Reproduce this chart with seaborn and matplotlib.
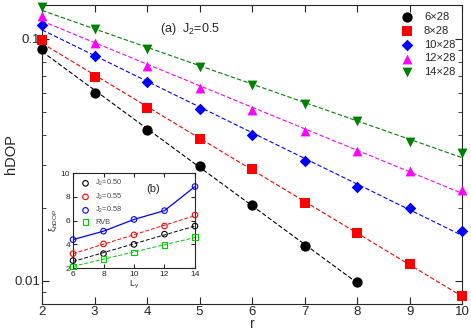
import numpy as np
import pandas as pd
import seaborn as sns
import matplotlib
matplotlib.use('Agg')
import matplotlib.pyplot as plt

# Main panel data
r = [2, 3, 4, 5, 6, 7, 8, 9, 10]
hdop_6 = [0.091, 0.0598, 0.042, 0.0299, 0.0206, 0.0140, 0.0099]
hdop_8 = [0.099, 0.0697, 0.0519, 0.0386, 0.0290, 0.0210, 0.0158, 0.01175, 0.00868]
hdop_10 = [0.114, 0.0851, 0.0664, 0.0514, 0.0401, 0.0313, 0.0244, 0.0200, 0.0161]
hdop_12 = [0.1245, 0.0963, 0.0774, 0.0627, 0.0509, 0.0417, 0.0345, 0.0285, 0.0238]
hdop_14 = [0.1355, 0.110, 0.091, 0.0766, 0.0645, 0.0539, 0.0458, 0.0375, 0.0338]
labels = ["6\u00d728", "8\u00d728", "10\u00d728", "12\u00d728", "14\u00d728"]

# Inset data
ly = [6, 8, 10, 12, 14]
xi_050 = [2.63, 3.22, 4.0, 4.86, 5.54]
xi_055 = [3.22, 4.04, 4.8, 5.54, 6.47]
xi_058 = [4.4, 5.11, 6.1, 6.84, 8.87]
xi_rvb = [2.15, 2.77, 3.33, 3.95, 4.6]

sns.set_style("ticks")
plt.rcParams['font.family'] = ['Liberation Sans', 'DejaVu Sans']
plt.rcParams['mathtext.fontset'] = 'custom'
plt.rcParams['mathtext.rm'] = 'Liberation Sans'
plt.rcParams['mathtext.it'] = 'Liberation Sans'

fig = plt.figure(figsize=(4.71, 3.31), dpi=100)
ax = fig.add_axes([0.0892, 0.0816, 0.892, 0.903])

series = [hdop_6, hdop_8, hdop_10, hdop_12, hdop_14]
colors = ["#000000", "#ff0000", "#0000ff", "#ff00ff", "#008000"]
markers = ["o", "s", "D", "^", "v"]
msizes = [55, 45, 35, 50, 50]

for vals, lab, col, mk, ms in zip(series, labels, colors, markers, msizes):
    xs = np.array(r[:len(vals)])
    ys = np.array(vals)
    # exponential fit, drawn as dashed line
    p = np.polyfit(xs, np.log(ys), 1)
    xf = np.linspace(xs.min(), xs.max(), 50)
    ax.plot(xf, np.exp(np.polyval(p, xf)), ls=(0, (4, 2)), color=col, lw=0.8)
    sns.scatterplot(x=xs, y=ys, ax=ax, marker=mk, color=col, s=ms,
                    edgecolor=col, linewidth=0, label=lab, clip_on=False,
                    zorder=5)

ax.set_yscale("log")
ax.set_xlim(2, 10)
ax.set_ylim(0.00803, 0.138)
ax.set_yticks([0.01, 0.1])
ax.set_yticklabels(["0.01", "0.1"])
ax.set_xticks(r)
ax.tick_params(which="both", direction="in", top=True, right=True,
               labelsize=9.5, pad=1.5)
ax.tick_params(which="major", length=5)
ax.tick_params(which="minor", length=3)
ax.set_xlabel("r", fontsize=10, labelpad=-1)
ax.set_ylabel("hDOP", fontsize=10.5, labelpad=0)
ax.yaxis.set_label_coords(-0.056, 0.5)
ax.text(0.281, 0.91, "(a)  J$_2$=0.5", transform=ax.transAxes, fontsize=9)
leg = ax.legend(loc="upper right", frameon=False, fontsize=8,
                handletextpad=0.5, borderaxespad=0.3, labelspacing=0.35,
                borderpad=0.3, markerfirst=True)

# Inset
ins = fig.add_axes([0.155, 0.19, 0.259, 0.287])
inset = [(xi_050, "#000000", "o", "J$_2$=0.50", True),
         (xi_055, "#ff0000", "o", "J$_2$=0.55", True),
         (xi_058, "#0000ff", "o", "J$_2$=0.58", False),
         (xi_rvb, "#00cc00", "s", "RVB", True)]
for vals, col, mk, lab, fit in inset:
    xs = np.array(ly)
    ys = np.array(vals)
    if fit:
        p = np.polyfit(xs, ys, 1)
        ins.plot(xs, np.polyval(p, xs), ls=(0, (4, 2)), color=col, lw=0.7)
    else:
        ins.plot(xs, ys, color=col, lw=0.9)
    sns.scatterplot(x=xs, y=ys, ax=ins, marker=mk, s=16, facecolor="none",
                    edgecolor=col, linewidth=0.8, label=lab, clip_on=False,
                    zorder=5)
ins.set_xlim(6, 14)
ins.set_ylim(2, 10)
ins.set_xticks(ly)
ins.set_yticks([2, 4, 6, 8, 10])
ins.tick_params(direction="in", top=True, right=True, labelsize=6,
                length=3, pad=2)
ins.set_xlabel("L$_y$", fontsize=6.5, labelpad=1)
ins.set_ylabel("\u03be$_{hDOP}$", fontsize=6.5, labelpad=1)
ins.text(0.6, 0.8, "(b)", transform=ins.transAxes, fontsize=8)
ins.legend(loc="upper left", frameon=False, fontsize=5.3,
           handletextpad=0.3, labelspacing=0.45, borderaxespad=0.3,
           markerscale=1.0, labelcolor="#444444")

fig.savefig("out.png", dpi=100)
